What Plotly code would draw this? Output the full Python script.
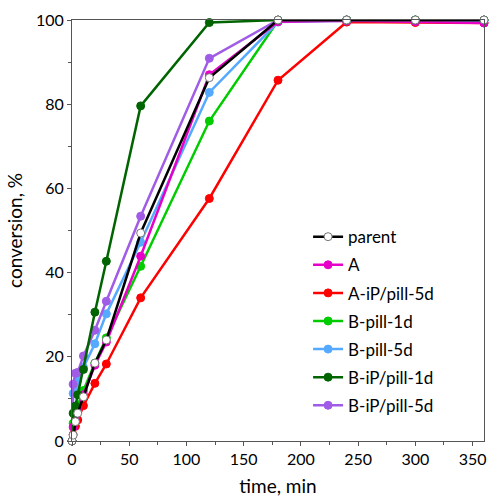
import plotly.graph_objects as go

times = [0, 1, 3, 5, 10, 20, 30, 60, 120, 180, 240, 300, 360]

parent = [0, 1.4, 4.6, 6.6, 10.5, 18.5, 24.0, 49.4, 86.3, 100, 100, 100, 100]
series_a = [0, 3.3, 5.5, 7.5, 11.0, 18.0, 23.5, 43.9, 87.0, 99.6, 99.8, 99.6, 99.3]
a_ip_pill_5d = [0, 1.5, 3.5, 5.0, 8.4, 13.7, 18.3, 34.0, 57.6, 85.7, 99.5, 99.4, 99.3]
b_pill_1d = [0, 4.2, 6.5, 8.5, 12.0, 18.5, 24.5, 41.5, 76.0, 99.8, 100, 100, 100]
b_pill_5d = [0, 11.3, 13.0, 14.5, 17.5, 23.1, 30.2, 47.2, 82.8, 99.5, 99.8, 99.8, 99.8]
b_ip_pill_1d = [0, 6.6, 8.3, 11.0, 17.0, 30.6, 42.7, 79.6, 99.4, 100, 100, 100, 100]
b_ip_pill_5d = [0, 13.5, 16.1, 16.3, 20.2, 26.3, 33.2, 53.4, 90.9, 100, 100, 100, 100]

names = ["parent", "A", "A-iP/pill-5d", "B-pill-1d", "B-pill-5d", "B-iP/pill-1d", "B-iP/pill-5d"]
values = [parent, series_a, a_ip_pill_5d, b_pill_1d, b_pill_5d, b_ip_pill_1d, b_ip_pill_5d]
colors = ["#000000", "#E600C8", "#FF0000", "#00CC00", "#55AAFF", "#006400", "#A05CE6"]

fig = go.Figure()
draw_order = [2, 3, 4, 1, 6, 5, 0]
for i in draw_order:
    is_parent = i == 0
    fig.add_trace(go.Scatter(
        x=times, y=values[i], name=names[i], mode="lines+markers",
        line=dict(color=colors[i], width=2.5),
        marker=dict(
            size=8,
            color="white" if is_parent else colors[i],
            line=dict(color="#777777" if is_parent else colors[i], width=1),
        ),
        cliponaxis=False,
        legendgroup=names[i],
        legendrank=i + 1,
    ))

font = "Lato, 'Liberation Sans', sans-serif"
fig.update_layout(
    width=489, height=500,
    margin=dict(l=72, r=5, t=20, b=59, autoexpand=False),
    paper_bgcolor="white", plot_bgcolor="white",
    font=dict(family=font, size=16, color="#000000"),
    showlegend=True,
    legend=dict(x=0.573, y=0.527, xanchor="left", yanchor="top",
                bgcolor="rgba(0,0,0,0)", font=dict(size=17),
                traceorder="grouped", tracegroupgap=3),
    xaxis=dict(range=[0, 360], tickvals=[0, 50, 100, 150, 200, 250, 300, 350],
               showline=True, linecolor="#555555", linewidth=1, mirror=True,
               ticks="outside", ticklen=4, tickcolor="#555555",
               minor=dict(tickvals=[25, 75, 125, 175, 225, 275, 325], ticks="outside", ticklen=3, tickcolor="#555555"),
               showgrid=False, zeroline=False, automargin=False,
               title=dict(text="time, min", standoff=12)),
    yaxis=dict(range=[0, 100], tickvals=[0, 20, 40, 60, 80, 100],
               showline=True, linecolor="#555555", linewidth=1, mirror=True,
               ticks="outside", ticklen=4, tickcolor="#555555",
               minor=dict(tickvals=[10, 30, 50, 70, 90], ticks="outside", ticklen=3, tickcolor="#555555"),
               showgrid=False, zeroline=False, automargin=False,
               title=dict(text="conversion, %", standoff=8)),
)

fig.write_html(
    "out.html",
    config={"displayModeBar": False},
    post_script="document.body.style.margin='0';document.body.style.overflow='hidden';",
)
